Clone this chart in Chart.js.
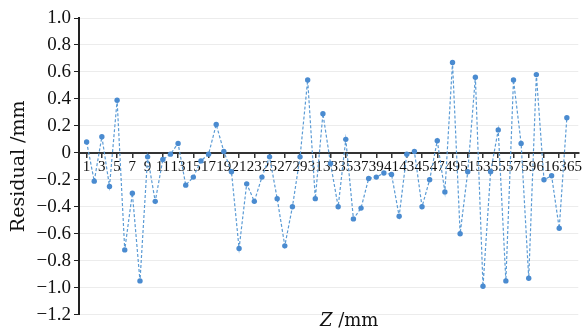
<!DOCTYPE html>
<html>
<head>
<meta charset="utf-8">
<script src="https://cdn.jsdelivr.net/npm/chart.js@4"></script>
<style>
  html, body { margin: 0; padding: 0; background: #fff; }
  #box { width: 583px; height: 329px; }
</style>
</head>
<body>
<div id="box"><canvas id="residual_chart"></canvas></div>
<script>
// Z positions (mm) and measured residuals (mm)
const z = [1, 2, 3, 4, 5, 6, 7, 8, 9, 10, 11, 12, 13, 14, 15, 16, 17, 18, 19, 20,
    21, 22, 23, 24, 25, 26, 27, 28, 29, 30, 31, 32, 33, 34, 35, 36, 37, 38, 39, 40,
    41, 42, 43, 44, 45, 46, 47, 48, 49, 50, 51, 52, 53, 54, 55, 56, 57, 58, 59, 60,
    61, 62, 63, 64];
const residual = [0.08, -0.21, 0.12, -0.25, 0.39, -0.72, -0.30, -0.95, -0.03, -0.36,
    -0.05, -0.01, 0.07, -0.24, -0.18, -0.06, -0.01, 0.21, 0.01, -0.14,
    -0.71, -0.23, -0.36, -0.18, -0.03, -0.34, -0.69, -0.40, -0.03, 0.54,
    -0.34, 0.29, -0.08, -0.40, 0.10, -0.49, -0.41, -0.19, -0.18, -0.15,
    -0.16, -0.47, -0.01, 0.01, -0.40, -0.20, 0.09, -0.29, 0.67, -0.60,
    -0.14, 0.56, -0.99, -0.14, 0.17, -0.95, 0.54, 0.07, -0.93, 0.58,
    -0.20, -0.17, -0.56, 0.26];
const zTicks = [1, 3, 5, 7, 9, 11, 13, 15, 17, 19, 21, 23, 25, 27, 29, 31, 33,
    35, 37, 39, 41, 43, 45, 47, 49, 51, 53, 55, 57, 59, 61, 63, 65];

// x axis title: italic Z followed by " /mm"
const xTitle = {
    id: 'xTitle',
    afterDraw(chart) {
        const ctx = chart.ctx;
        ctx.save();
        ctx.fillStyle = '#111';
        ctx.textBaseline = 'alphabetic';
        ctx.font = 'italic 18px "DejaVu Serif"';
        ctx.fillText('Z', 320, 326);
        const w = ctx.measureText('Z').width;
        ctx.font = '18px "DejaVu Serif"';
        ctx.fillText(' /mm', 320 + w, 326);
        ctx.restore();
    }
};

new Chart(document.getElementById('residual_chart'), {
    type: 'line',
    data: {
        datasets: [{
            label: 'Residual',
            data: z.map((v, i) => ({ x: v, y: residual[i] })),
            borderColor: '#5b9bd5',
            borderWidth: 1.2,
            borderDash: [3, 2],
            pointRadius: 2.7,
            pointBackgroundColor: '#4a8bd0',
            pointBorderColor: '#4a8bd0',
            pointBorderWidth: 0,
            tension: 0
        }]
    },
    options: {
        responsive: true,
        maintainAspectRatio: false,
        animation: false,
        layout: { padding: { top: 18, bottom: 14, left: 0, right: 2 } },
        plugins: {
            legend: { display: false },
            tooltip: { enabled: false }
        },
        scales: {
            x: {
                type: 'linear',
                position: { y: 0 },
                min: 0,
                max: 65.5,
                afterBuildTicks: (axis) => {
                    axis.ticks = zTicks.map(v => ({ value: v }));
                },
                border: { color: '#333', width: 2 },
                grid: {
                    drawOnChartArea: false,
                    drawTicks: true,
                    tickLength: 4,
                    tickColor: '#333',
                    lineWidth: 1.5
                },
                ticks: {
                    autoSkip: false,
                    maxRotation: 0,
                    padding: 1,
                    color: '#111',
                    font: { family: 'Liberation Serif', size: 15 }
                }
            },
            y: {
                min: -1.2,
                max: 1.0,
                afterFit: (scale) => { scale.width = 79; },
                border: { color: '#222', width: 2 },
                grid: {
                    color: '#ececec',
                    tickColor: '#222',
                    tickLength: 5,
                    lineWidth: 1
                },
                ticks: {
                    stepSize: 0.2,
                    padding: 3,
                    color: '#111',
                    font: { family: 'Liberation Serif', size: 19 },
                    callback: (v) => Math.abs(v) < 1e-9 ? '0' : (v < 0 ? '\u2212' : '') + Math.abs(v).toFixed(1)
                },
                title: {
                    display: true,
                    text: 'Residual /mm',
                    color: '#111',
                    padding: { top: 8, bottom: 2 },
                    font: { family: 'DejaVu Serif', size: 19 }
                }
            }
        }
    },
    plugins: [xTitle]
});
</script>
</body>
</html>
